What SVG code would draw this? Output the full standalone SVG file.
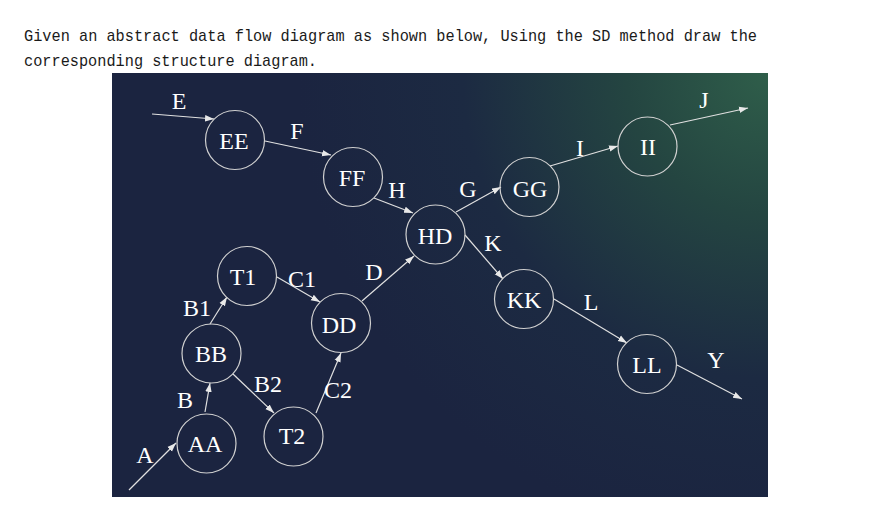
<svg xmlns="http://www.w3.org/2000/svg" width="870" height="527" viewBox="0 0 870 527">
<defs>
<radialGradient id="bg" gradientUnits="userSpaceOnUse" cx="768" cy="73" r="470">
<stop offset="0" stop-color="#2f5e4a"/>
<stop offset="0.3" stop-color="#244541"/>
<stop offset="0.65" stop-color="#1c2a42"/>
<stop offset="1" stop-color="#1b2440"/>
</radialGradient>
<marker id="ah" markerUnits="userSpaceOnUse" markerWidth="10" markerHeight="8" refX="9" refY="4" orient="auto">
<path d="M0,0.8 L9,4 L0,7.2 Z" fill="#e8e8e8"/>
</marker>
<style>
.hd{font-family:"Liberation Mono","DejaVu Sans Mono",monospace;font-size:17px;fill:#1a1a1a}
.n circle{fill:none;stroke:#d0d0d0;stroke-width:1.2}
.lbl{font-family:"Liberation Serif","Times New Roman",serif;font-size:24px;fill:#ffffff;text-anchor:middle}
.e line{stroke:#e0e0e0;stroke-width:1.2;marker-end:url(#ah)}
</style>
</defs>
<rect width="870" height="527" fill="#ffffff"/>
<text class="hd" x="24" y="41" textLength="733" lengthAdjust="spacingAndGlyphs">Given an abstract data flow diagram as shown below, Using the SD method draw the</text>
<text class="hd" x="24" y="66" textLength="293" lengthAdjust="spacingAndGlyphs">corresponding structure diagram.</text>
<rect x="112" y="73" width="656" height="424" fill="url(#bg)"/>

<g id="connectors" class="e">
<line x1="152" y1="114" x2="214" y2="119"/>
<line x1="265" y1="141" x2="331" y2="155"/>
<line x1="374" y1="198" x2="413" y2="213"/>
<line x1="362" y1="301" x2="414" y2="256"/>
<line x1="456" y1="212" x2="501" y2="187"/>
<line x1="550" y1="166" x2="618" y2="146"/>
<line x1="670" y1="125" x2="748" y2="108"/>
<line x1="465" y1="235" x2="503" y2="279"/>
<line x1="554" y1="299" x2="627" y2="343"/>
<line x1="677" y1="365" x2="742" y2="399"/>
<line x1="129" y1="490" x2="176" y2="443"/>
<line x1="205" y1="412" x2="210" y2="383"/>
<line x1="210" y1="324" x2="227" y2="297"/>
<line x1="233" y1="374" x2="274" y2="413"/>
<line x1="277" y1="277" x2="320" y2="302"/>
<line x1="316" y1="413" x2="341" y2="353"/>
</g>

<g id="edge-labels" class="lbl">
<text x="179" y="109">E</text>
<text x="297" y="139">F</text>
<text x="397" y="198">H</text>
<text x="374" y="280">D</text>
<text x="468" y="197">G</text>
<text x="580" y="156">I</text>
<text x="704" y="108">J</text>
<text x="493" y="251">K</text>
<text x="591" y="310">L</text>
<text x="716" y="368">Y</text>
<text x="145" y="463">A</text>
<text x="185" y="408">B</text>
<text x="197" y="316">B1</text>
<text x="268" y="392">B2</text>
<text x="302" y="287">C1</text>
<text x="338" y="398">C2</text>
</g>

<g id="node-EE" class="n"><circle cx="235" cy="140" r="29.5"/><text class="lbl" x="234" y="149">EE</text></g>
<g id="node-FF" class="n"><circle cx="353" cy="177" r="29.5"/><text class="lbl" x="352" y="186">FF</text></g>
<g id="node-HD" class="n"><circle cx="435.5" cy="234.5" r="29.5"/><text class="lbl" x="435" y="244">HD</text></g>
<g id="node-GG" class="n"><circle cx="529.5" cy="187" r="29.5"/><text class="lbl" x="530" y="197">GG</text></g>
<g id="node-II" class="n"><circle cx="647.5" cy="146.5" r="29.5"/><text class="lbl" x="648" y="155">II</text></g>
<g id="node-KK" class="n"><circle cx="524" cy="299" r="29.5"/><text class="lbl" x="524" y="308">KK</text></g>
<g id="node-LL" class="n"><circle cx="647" cy="364" r="29.5"/><text class="lbl" x="647" y="373">LL</text></g>
<g id="node-T1" class="n"><circle cx="247" cy="276" r="29.5"/><text class="lbl" x="243" y="285">T1</text></g>
<g id="node-DD" class="n"><circle cx="341" cy="323" r="29.5"/><text class="lbl" x="339" y="333">DD</text></g>
<g id="node-BB" class="n"><circle cx="211.5" cy="353.5" r="29.5"/><text class="lbl" x="211" y="362">BB</text></g>
<g id="node-AA" class="n"><circle cx="206.5" cy="443.5" r="29.5"/><text class="lbl" x="205" y="452">AA</text></g>
<g id="node-T2" class="n"><circle cx="293.5" cy="436.5" r="29.5"/><text class="lbl" x="292" y="444">T2</text></g>
</svg>
